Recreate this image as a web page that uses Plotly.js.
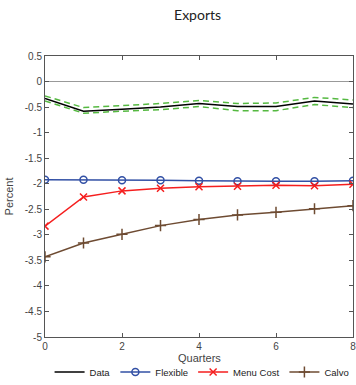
<!DOCTYPE html>
<html>
<head>
<meta charset="utf-8">
<script src="https://cdn.plot.ly/plotly-3.0.1.min.js"></script>
<style>html,body{margin:0;padding:0;background:#fff}#chart{width:356px;height:385px}</style>
</head>
<body>
<div id="chart"></div>
<script>
const quarters = [0, 1, 2, 3, 4, 5, 6, 7, 8];
const dataSeries = [-0.33, -0.58, -0.54, -0.50, -0.43, -0.49, -0.49, -0.38, -0.44];
const dataUpper = [-0.28, -0.51, -0.47, -0.43, -0.37, -0.43, -0.42, -0.31, -0.36];
const dataLower = [-0.38, -0.62, -0.58, -0.55, -0.49, -0.57, -0.57, -0.45, -0.51];
const flexible = [-1.92, -1.92, -1.93, -1.93, -1.94, -1.95, -1.95, -1.95, -1.94];
const menuCost = [-2.83, -2.26, -2.14, -2.09, -2.06, -2.05, -2.03, -2.04, -2.01];
const calvo = [-3.43, -3.16, -2.99, -2.82, -2.70, -2.61, -2.56, -2.49, -2.43];
const yTickVals = [0.5, 0, -0.5, -1, -1.5, -2, -2.5, -3, -3.5, -4, -4.5, -5];
const yTickText = ["0.5", "0", "-0.5", "-1", "-1.5", "-2", "-2.5", "-3", "-3.5", "-4", "-4.5", "-5"];
const xTickVals = [0, 2, 4, 6, 8];
const xTitle = "Quarters";

const green = "rgb(85,185,65)";
const traces = [
  {x: quarters, y: dataUpper, mode: "lines", line: {color: green, width: 1.5, dash: "6px,4px"}, showlegend: false, hoverinfo: "skip"},
  {x: quarters, y: dataLower, mode: "lines", line: {color: green, width: 1.5, dash: "6px,4px"}, showlegend: false, hoverinfo: "skip"},
  {x: quarters, y: dataSeries, mode: "lines", name: "Data", line: {color: "black", width: 1.5}},
  {x: quarters, y: flexible, mode: "lines+markers", name: "Flexible", line: {color: "rgb(50,80,165)", width: 1.5},
   marker: {symbol: "circle-open", size: 7, color: "rgb(50,80,165)", line: {width: 1.5}}},
  {x: quarters, y: menuCost, mode: "lines+markers", name: "Menu Cost", line: {color: "rgb(245,30,30)", width: 1.5},
   marker: {symbol: "x-thin-open", size: 7, color: "rgb(245,30,30)", line: {width: 1.5, color: "rgb(245,30,30)"}}},
  {x: quarters, y: calvo, mode: "lines+markers", name: "Calvo", line: {color: "rgb(110,75,50)", width: 1.5},
   marker: {symbol: "cross-thin-open", size: 8, color: "rgb(110,75,50)", line: {width: 1.5, color: "rgb(110,75,50)"}}}
];

const axisCommon = {
  showgrid: false, showline: true, linecolor: "#555", linewidth: 1, mirror: "ticks",
  ticks: "inside", ticklen: 4, tickcolor: "#555", automargin: false,
  tickfont: {family: "Liberation Sans, Arial, sans-serif", size: 10, color: "#444"}
};

const layout = {
  width: 356, height: 385,
  margin: {l: 45, r: 3, t: 56, b: 48},
  paper_bgcolor: "white", plot_bgcolor: "white",
  title: {text: "Exports", x: 0.555, xanchor: "center", y: 0.96, yanchor: "middle",
          font: {family: "Lato, sans-serif", size: 14, color: "#222"}},
  xaxis: Object.assign({}, axisCommon, {
    range: [0, 8], tickvals: xTickVals, ticktext: xTickVals.map(String), zeroline: false,
    ticklabeloverflow: "allow"
  }),
  yaxis: Object.assign({}, axisCommon, {
    range: [-5, 0.5], tickvals: yTickVals, ticktext: yTickText,
    zeroline: true, zerolinecolor: "#999", zerolinewidth: 1.2,
    title: {text: "Percent", font: {family: "Liberation Sans, Arial, sans-serif", size: 11, color: "#444"}}
  }),
  annotations: [{text: xTitle, xref: "paper", yref: "paper", x: 0.5, y: 0, xanchor: "center", yanchor: "middle",
                 yshift: -21, showarrow: false, font: {family: "Liberation Sans, Arial, sans-serif", size: 11, color: "#444"}}],
  legend: {orientation: "h", x: 0.51, xanchor: "center", yref: "container", y: 0.966, yanchor: "middle",
           font: {family: "Liberation Sans, Arial, sans-serif", size: 9.5, color: "#222"},
           itemwidth: 30, tracegroupgap: 0, bgcolor: "rgba(0,0,0,0)"},
  showlegend: true
};
layout.legend.y = 13 / 385;

Plotly.newPlot("chart", traces, layout, {displayModeBar: false, staticPlot: true});
</script>
</body>
</html>
